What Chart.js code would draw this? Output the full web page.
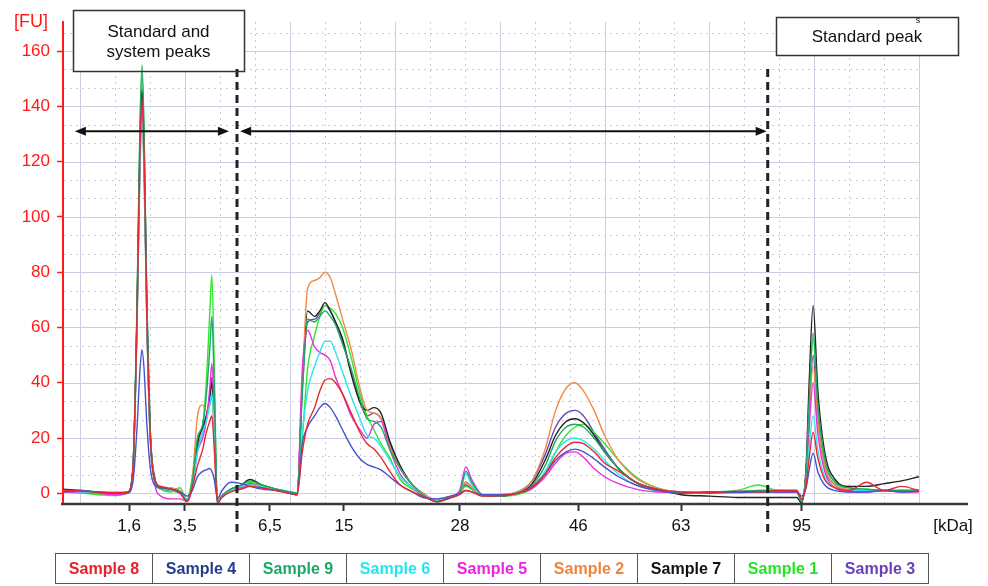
<!DOCTYPE html>
<html>
<head>
<meta charset="utf-8">
<script src="https://cdn.jsdelivr.net/npm/chart.js@4.4.1/dist/chart.umd.min.js"></script>
<style>
  html, body { margin: 0; padding: 0; background: #fff; }
  #wrap { position: relative; width: 988px; height: 586px; overflow: hidden; }
  #c { position: absolute; left: 0; top: 0; }
  #legend {
    position: absolute; left: 55px; top: 553px; width: 874px;
    border-collapse: collapse; table-layout: fixed;
    font: bold 16px "Liberation Sans", Arial, sans-serif;
  }
  #legend td { height: 29px; border: 1.5px solid #555; text-align: center; padding: 0; white-space: nowrap; }
</style>
</head>
<body>
<div id="wrap">
  <canvas id="c" width="988" height="586"></canvas>
  <table id="legend"><tr></tr></table>
</div>
<script>
// Relative migration position of every sampled point (shared by all traces)
const MIGRATION = [2.5, 3.0, 3.5, 4.0, 4.35, 4.5, 4.62, 4.7, 4.76, 4.82, 4.9, 5.0, 5.12, 5.3, 5.6, 5.85,
  6.05, 6.2, 6.35, 6.5, 6.6, 6.7, 6.76, 6.83, 6.92, 7.05, 7.3, 7.6, 7.85, 8.2, 8.6, 9.0, 9.2,
  9.35, 9.5, 9.7, 9.85, 10.0, 10.15, 10.3, 10.5, 10.75, 11.0, 11.2, 11.4, 11.6, 11.85, 12.15, 12.5, 12.8,
  13.2, 13.6, 13.85, 14.03, 14.2, 14.5, 15.0, 15.5, 15.9,
  16.3, 16.6, 16.9, 17.15, 17.4, 17.7, 18.0, 18.4, 18.9, 19.5,
  20.2, 21.0, 21.8, 22.4, 23.0, 23.5,
  23.64, 23.77, 23.85, 23.97, 24.1, 24.3, 24.6, 25.0,
  25.5, 26.0, 26.5, 27.0];

// Fluorescence [FU] per sample
const sample8 = [1.2, 0.8, 0.5, 0.2, 0.4,
  9, 64, 122, 143, 122, 64, 20, 5,
  2.5, 1.5, 0, -3,
  2, 10, 16, 22, 26, 28, 16, -3.5, -1.5,
  0.5, 1.5, 2.5, 2, 1, 0, -0.5,
  15, 25, 31, 37, 41, 41.5, 40, 36, 29, 22, 18, 16, 13, 8, 3, 0.5, -1,
  -3, -1.5, -0.5, 1, 0.5, -1, -0.8, 0, 2,
  7, 13, 17, 18.5, 18, 15, 11, 8, 4, 1.5,
  0.5, 0.2, 0.8, 0.5, 1, 1,
  -2, 3, 12, 22, 13, 5, 2, 1,
  4, 1, 2.5, 1];
const sample4 = [0.5, 1, 0.3, 0, 0.2,
  4, 24, 44, 52, 45, 25, 9, 3,
  2, 1.5, 0.5, -1,
  1, 6, 8, 8.5, 9, 8, 5, -2, 1,
  4, 3.5, 2.5, 1.5, 1, 0, -0.5,
  18, 24, 28, 31, 32.5, 31, 28, 23, 17, 12.5, 10.5, 9.5, 8.5, 6, 3, 0.5, -1.5,
  -2, -1, 0, 1, 0.5, -0.5, -0.5, 0, 2,
  7, 12, 15, 16, 15, 12.5, 9.5, 6, 3, 1,
  0, 0.5, 0.3, 0.5, 0.5, 0.5,
  -1, 2, 8, 14.5, 8, 3, 1, 0.5,
  0.5, 1, 0.5, 0.8];
const sample9 = [0.8, 1, 0.3, 0, 0.3,
  9, 70, 132, 155, 132, 70, 22, 5,
  2, 1.5, 0.5, -2.5,
  4, 20, 25, 35, 52, 64, 38, -3.5, -1,
  1.5, 3, 4.5, 3, 1.5, 0.5, 0,
  36, 63, 62, 64, 66, 64, 61, 54, 45, 34, 27, 26, 24, 16, 9, 3, -0.5,
  -3, -1.5, 0, 8, 4, -0.5, -1, 0, 2.5,
  10, 19, 24, 25, 24, 20, 15, 9, 4, 1.5,
  0, 0.5, 0.5, 1, 1, 0.5,
  -3, 8, 32, 58, 33, 13, 4, 2,
  1.5, 1, 1, 1];
const sample6 = [1, 0.5, 0.2, 0.5, 0.5,
  8, 61, 115, 135, 115, 61, 19, 5,
  2, 1, 0, -2,
  3, 15, 22, 26, 32, 36, 22, -3, -1,
  1, 2.5, 3, 2.5, 1.5, 0.5, 0,
  22, 37, 46, 51, 55, 55, 51, 44, 35, 27, 21, 20, 17, 12, 6, 2, -0.5,
  -2.5, -1, 0, 7, 3, -0.5, -0.5, 0, 2,
  8, 15, 19, 20, 19, 16, 12, 7, 3, 1,
  0.5, 0.5, 0.8, 1, 1, 1,
  -2, 5, 16, 28, 16, 6, 2, 1,
  1, 0.8, 1, 0.8];
const sample5 = [0.5, 0.3, 0, -0.5, 0,
  8, 63, 119, 140, 119, 63, 20, 4,
  -1, -2, -2, -3,
  2, 15, 20, 26, 38, 47, 28, -3, -1,
  1, 2, 3, 2, 1, 0.5, 0,
  45, 59, 53, 51, 50, 48, 42, 36, 28, 23, 20, 25, 26, 16, 7, 2, -1,
  -2.5, -1, 1, 9.5, 5, -0.5, -1, 0, 1.5,
  6, 11, 14.5, 15, 13, 9, 6, 3.5, 1.5, 0.5,
  0.5, 0, 0.5, 0.8, 0.5, 0.5,
  -2, 6, 22, 40, 22, 8, 2, 0.5,
  0.5, 1, 0.5, 0.5];
const sample2 = [1, 0.5, 0.5, 0.2, 0.3,
  8, 62, 117, 138, 117, 62, 19, 5,
  2.5, 2, 1, -2,
  5, 28, 32, 30, 32, 35, 20, -3, -1,
  1, 2, 3, 2.5, 1.5, 0.5, 0,
  40, 74, 77, 78, 80, 78, 72, 63, 52, 38, 30, 29, 27, 17, 9, 3, 0,
  -2.5, -1, 0, 4, 2, -0.5, -0.5, 0.5, 4,
  16, 30, 38, 40, 37, 30, 21, 12, 5.5, 2,
  0.5, 0.5, 0.5, 0.8, 1, 1,
  -2, 7, 26, 46, 26, 10, 3, 1.5,
  1, 1, 1, 0.8];
const sample7 = [1.5, 1, 0.5, 0, 0.5,
  8, 66, 124, 146, 126, 68, 22, 6,
  2, 1.5, 0.5, -2.5,
  3, 18, 24, 28, 34, 40, 25, -3.5, -1,
  1.5, 3, 5, 3, 1.5, 0, -0.5,
  40, 66, 64, 66, 69, 66, 62, 56, 43, 33, 30, 31, 29, 19, 10, 3, 0,
  -3, -1.5, 0, 4, 2, -0.5, -1, 0.3, 3,
  12, 21, 26, 27, 25.5, 21, 15, 9, 4, 1.5,
  -0.5, -1, -1.5, -1.5, -1.5, -1.5,
  -3.5, 10, 38, 68, 38, 15, 5, 2.5,
  2.5, 3.5, 4.5, 6];
const sample1 = [0.5, 0.2, -0.5, -0.8, 0,
  9, 68, 129, 152, 129, 68, 21, 5,
  1.5, 0.5, 2, -2.5,
  6, 20, 25, 40, 65, 79, 45, -3.5, -1,
  1, 2.5, 4, 3, 1.5, 0.5, 0,
  20, 45, 57, 64, 68, 67, 65, 60, 49, 36, 28, 23, 18, 13, 5, 1.5, -0.5,
  -3, -1.5, 0, 2.5, 1.5, -1, -1, -0.5, 1.5,
  7, 15, 21, 24, 25, 22, 18, 12, 6, 2,
  0.5, 0.5, 1, 3, 1, 1,
  -3, 7, 30, 56, 32, 12, 4, 2,
  1.5, 1, 1, 1];
const sample3 = [1, 0.8, 0.3, 0.2, 0.3,
  8, 65, 123, 145, 123, 65, 20, 5,
  1.5, 1, 0, -2.5,
  3, 16, 22, 27, 35, 42, 25, -3, -1,
  1, 2, 3.5, 2.5, 1.5, 0.5, 0,
  38, 62, 63, 65, 68, 66, 62, 55, 44, 33, 28, 29, 27, 18, 9, 3, 0,
  -3, -1.5, 0, 3, 1.5, -0.5, -0.5, 0.5, 4,
  14, 24, 29, 30, 28, 22, 16, 9, 4, 1.5,
  0.5, 0.3, 0.5, 0.8, 0.8, 0.5,
  -2.5, 8, 27, 50, 28, 10, 3, 1,
  1, 0.8, 1, 1];

const SAMPLE_NAMES = ['Sample 8', 'Sample 4', 'Sample 9', 'Sample 6', 'Sample 5', 'Sample 2', 'Sample 7', 'Sample 1', 'Sample 3'];
const SERIES = [sample8, sample4, sample9, sample6, sample5, sample2, sample7, sample1, sample3];
const TRACE_COLORS = ['#e8262e', '#4454cc', '#1ea866', '#2ee4ee', '#ee2ee0', '#f28a4a', '#222222', '#2ee82e', '#6a46b8'];
const LEGEND_COLORS = ['#e8202a', '#263c8c', '#1aa866', '#22e6ee', '#ee22de', '#f0843c', '#111111', '#22e622', '#6a40b8'];

// Size-marker positions on the migration axis and their kDa labels
const KDA_POSITIONS = [4.39, 5.99, 8.42, 10.54, 13.86, 17.25, 20.19, 23.64];
const KDA_LABELS = ['1,6', '3,5', '6,5', '15', '28', '46', '63', '95'];
const FU_TICKS = [0, 20, 40, 60, 80, 100, 120, 140, 160];

// Region boundaries (dashed) and the arrows spanning each region
const REGION_SPLITS = [7.48, 22.67];
const ARROW_LEVEL = 131;
const ARROW_SPANS = [[2.84, 7.25], [7.57, 22.64]];

const X_MIN = 2.5, X_MAX = 27, Y_MIN = -3.5, Y_MAX = 170.5;
const FONT = '"Liberation Sans", Arial, sans-serif';
Chart.defaults.font.family = FONT;

const BOX_LEFT = {x: 73, y: 10, w: 171, h: 61};
const BOX_RIGHT = {x: 776, y: 17, w: 182, h: 38};

const gridPlugin = {
  id: 'fuGrid',
  beforeDraw(chart) {
    const {ctx, chartArea: a, scales: {x, y}} = chart;
    ctx.save();
    ctx.lineWidth = 1;
    const vline = v => { const p = Math.round(x.getPixelForValue(v)) + 0.5; ctx.beginPath(); ctx.moveTo(p, a.top); ctx.lineTo(p, a.bottom); ctx.stroke(); };
    const hline = v => { const p = Math.round(y.getPixelForValue(v)) + 0.5; ctx.beginPath(); ctx.moveTo(a.left + 1, p); ctx.lineTo(a.right, p); ctx.stroke(); };
    // dotted minor grid
    ctx.strokeStyle = '#c9cbdb';
    ctx.setLineDash([2, 4]);
    for (let v = 3; v <= X_MAX; v++) if (v % 3) vline(v);
    for (let k = 1; k * 20 / 3 < Y_MAX; k++) if (k % 3) hline(k * 20 / 3);
    // solid major grid
    ctx.setLineDash([]);
    ctx.strokeStyle = '#cacee3';
    for (let v = 3; v <= X_MAX; v += 3) vline(v);
    for (let v = 0; v < Y_MAX; v += 20) hline(v);
    // white label boxes sit above the grid
    ctx.fillStyle = '#fff';
    [BOX_LEFT, BOX_RIGHT].forEach(b => ctx.fillRect(b.x, b.y, b.w, b.h));
    ctx.restore();
  },
  beforeDatasetsDraw(chart) {
    // migration baseline, running on past the plot to the unit label
    const {ctx, chartArea: a} = chart;
    ctx.save();
    ctx.strokeStyle = '#3a3a3a';
    ctx.lineWidth = 2.5;
    ctx.beginPath(); ctx.moveTo(a.left - 2, a.bottom + 1); ctx.lineTo(968, a.bottom + 1); ctx.stroke();
    ctx.restore();
  }
};

function arrowHead(ctx, xTip, yy, dir) {
  ctx.beginPath();
  ctx.moveTo(xTip, yy);
  ctx.lineTo(xTip - dir * 11, yy - 4.5);
  ctx.lineTo(xTip - dir * 11, yy + 4.5);
  ctx.closePath();
  ctx.fill();
}

const annotationPlugin = {
  id: 'regions',
  afterDatasetsDraw(chart) {
    const {ctx, scales: {x, y}} = chart;
    ctx.save();
    // region boundaries
    ctx.strokeStyle = '#222';
    ctx.lineWidth = 3;
    ctx.setLineDash([8, 5]);
    REGION_SPLITS.forEach(v => {
      const p = x.getPixelForValue(v);
      ctx.beginPath(); ctx.moveTo(p, 69); ctx.lineTo(p, 536); ctx.stroke();
    });
    ctx.setLineDash([]);

    // double-headed arrows
    ctx.strokeStyle = '#111';
    ctx.fillStyle = '#111';
    ctx.lineWidth = 2;
    const ya = y.getPixelForValue(ARROW_LEVEL);
    ARROW_SPANS.forEach(([v1, v2]) => {
      const p1 = x.getPixelForValue(v1), p2 = x.getPixelForValue(v2);
      ctx.beginPath(); ctx.moveTo(p1 + 6, ya); ctx.lineTo(p2 - 6, ya); ctx.stroke();
      arrowHead(ctx, p1, ya, -1);
      arrowHead(ctx, p2, ya, 1);
    });

    // label boxes
    ctx.strokeStyle = '#333';
    ctx.lineWidth = 1.5;
    [BOX_LEFT, BOX_RIGHT].forEach(b => ctx.strokeRect(b.x + 0.5, b.y + 0.5, b.w, b.h));
    ctx.fillStyle = '#111';
    ctx.textAlign = 'center';
    ctx.textBaseline = 'middle';
    ctx.font = '17px ' + FONT;
    ctx.fillText('Standard and', BOX_LEFT.x + BOX_LEFT.w / 2, 32);
    ctx.fillText('system peaks', BOX_LEFT.x + BOX_LEFT.w / 2, 52);
    ctx.fillText('Standard peak', 867, 37);
    ctx.font = '9px ' + FONT;
    ctx.fillText('s', 918, 21);

    // axis units
    ctx.font = '18px ' + FONT;
    ctx.fillStyle = '#ff1a1a';
    ctx.fillText('[FU]', 31, 22);
    ctx.font = '17px ' + FONT;
    ctx.fillStyle = '#111';
    ctx.fillText('[kDa]', 953, 526);
    ctx.restore();
  }
};

const datasets = SERIES.map((vals, i) => ({
  label: SAMPLE_NAMES[i],
  data: vals.map((v, k) => ({x: MIGRATION[k], y: v})),
  borderColor: TRACE_COLORS[i],
  borderWidth: 1.4,
  pointRadius: 0,
  fill: false,
  cubicInterpolationMode: 'monotone'
}));

new Chart(document.getElementById('c'), {
  type: 'line',
  data: {datasets},
  options: {
    responsive: false,
    animation: false,
    devicePixelRatio: 1,
    events: [],
    layout: {padding: {left: 0, top: 22, right: 69, bottom: 0}},
    plugins: {legend: {display: false}, tooltip: {enabled: false}},
    scales: {
      x: {
        type: 'linear', min: X_MIN, max: X_MAX,
        afterFit: s => { s.height = 83; },
        afterBuildTicks: s => { s.ticks = KDA_POSITIONS.map(v => ({value: v})); },
        ticks: {autoSkip: false, maxRotation: 0, minRotation: 0, padding: 5, color: '#111', font: {size: 17},
          callback: (v, i) => KDA_LABELS[i]},
        grid: {drawOnChartArea: false, drawTicks: true, tickLength: 8, tickColor: '#333', tickWidth: 2},
        border: {display: false}
      },
      y: {
        type: 'linear', min: Y_MIN, max: Y_MAX,
        afterFit: s => { s.width = 63; },
        afterBuildTicks: s => { s.ticks = FU_TICKS.map(v => ({value: v})); },
        ticks: {padding: 7, color: '#ff1a1a', font: {size: 17}, callback: v => String(v)},
        grid: {drawOnChartArea: false, drawTicks: true, tickLength: 6, tickColor: '#ff1a1a', tickWidth: 1.5},
        border: {display: true, color: '#ff1a1a', width: 2}
      }
    }
  },
  plugins: [gridPlugin, annotationPlugin]
});

// legend table
const row = document.querySelector('#legend tr');
SAMPLE_NAMES.forEach((name, i) => {
  const td = document.createElement('td');
  td.textContent = name;
  td.style.color = LEGEND_COLORS[i];
  row.appendChild(td);
});
</script>
</body>
</html>
